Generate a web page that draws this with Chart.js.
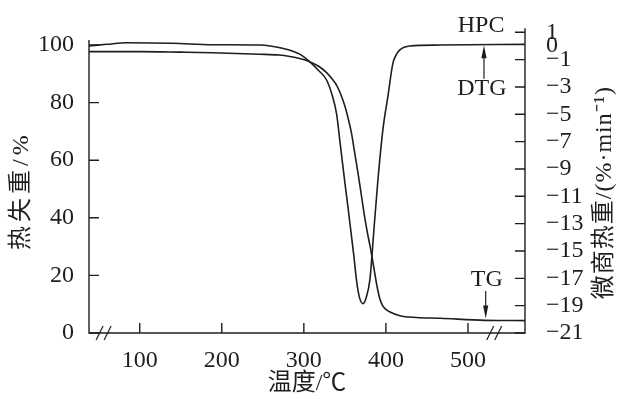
<!DOCTYPE html>
<html><head><meta charset="utf-8">
<script src="https://cdn.jsdelivr.net/npm/chart.js@4/dist/chart.umd.min.js"></script>
<style>html,body{margin:0;padding:0;background:#fff}canvas{display:block}</style>
</head><body>
<canvas id="c" width="621" height="399"></canvas>
<script>
// ---- data ----
const tgTemperature = [38.2, 100, 150, 189, 246, 270, 283, 295, 307, 318, 327.7, 335, 340, 344, 350, 354, 358, 362, 366, 370, 374, 378, 380.5, 383, 386, 389, 392.7, 396, 400, 405, 417, 437, 466, 521, 569.5];
const tgMass        = [97.7, 97.7, 97.5, 97.3, 96.8, 96.5, 96.0, 95.3, 94.2, 92.6, 90.4, 88.0, 86.0, 83.6, 78.8, 74.5, 69.5, 62.5, 55.5, 48.0, 40.5, 34.0, 30.5, 26.5, 21.5, 16.5, 11.8, 9.5, 8.2, 7.3, 6.0, 5.4, 5.1, 4.4, 4.3];
const dtgTemperature = [38.2, 60, 84, 140, 189, 246, 274, 295, 307, 318, 327.7, 335, 340, 344, 350, 354, 358, 361, 364.3, 368, 372.3, 376, 380.5, 385.4, 390, 396.3, 402.4, 408.5, 413, 417, 423, 429, 466, 569.5];
const dtgRate        = [0.0, 0.12, 0.24, 0.2, 0.09, 0.07, -0.17, -0.6, -1.15, -1.8, -2.49, -3.7, -5.0, -7.0, -10.0, -11.9, -13.9, -15.4, -17.2, -18.45, -18.85, -18.4, -17.1, -13.45, -10.0, -6.14, -3.7, -1.27, -0.6, -0.29, -0.08, 0.0, 0.07, 0.12];
const xTicks = [100, 200, 300, 400, 500];
const leftTicks = [0, 20, 40, 60, 80, 100];
const rightTicks = [1, 0, -1, -3, -5, -7, -9, -11, -13, -15, -17, -19, -21];
const xTitle = '温度/℃';
const leftTitle = '热失重/%';
const rightTitle = '微商热重/(%·min⁻¹)';
const seriesName = 'HPC';
const tgName = 'TG';
const dtgName = 'DTG';

// ---- styling / layout ----
const INK = '#1e1e1e';
const SERIF = "'Liberation Serif', 'Noto Sans CJK SC', serif";
const tickFont = {family: SERIF, size: 24};
const titleFont = {family: SERIF, size: 24};
const axisRange = {xMin: 38.2, xMax: 569.5, lMin: 0, lMax: 104.4, rMin: -21, rMax: 1, lTop: 101.7, rTop: 1.3};
const breaks = [56, 532];
const notes = {
  hpc: {x: 516, y: 1.5},
  dtg: {x: 517, y: -3.1, arrowX: 519.5, from: -2.4, to: 0.05},
  tg:  {x: 523, y: 18.6, arrowX: 521.6, from: 14.6, to: 5.0}
};

const fmt = v => v < 0 ? '\u2212' + Math.abs(v) : String(v);

const decor = {
  id: 'decor',
  afterDraw(chart) {
    const {ctx, chartArea: a, scales: {x, yL, yR}} = chart;
    ctx.save();
    ctx.strokeStyle = INK; ctx.fillStyle = INK; ctx.lineWidth = 1.4;
    // axis lines
    ctx.beginPath();
    ctx.moveTo(a.left, yL.getPixelForValue(axisRange.lTop));
    ctx.lineTo(a.left, a.bottom);
    ctx.lineTo(a.right, a.bottom);
    ctx.lineTo(a.right, yR.getPixelForValue(axisRange.rTop));
    ctx.stroke();
    // inward tick marks
    const L = 10;
    ctx.beginPath();
    leftTicks.forEach(v => { const p = yL.getPixelForValue(v); ctx.moveTo(a.left, p); ctx.lineTo(a.left + L, p); });
    rightTicks.filter(v => v !== 0).forEach(v => { const p = yR.getPixelForValue(v); ctx.moveTo(a.right, p); ctx.lineTo(a.right - L, p); });
    xTicks.forEach(v => { const p = x.getPixelForValue(v); ctx.moveTo(p, a.bottom); ctx.lineTo(p, a.bottom - L); });
    ctx.stroke();
    // axis break marks
    ctx.lineWidth = 1.2;
    ctx.beginPath();
    breaks.forEach(v => {
      const c = x.getPixelForValue(v);
      [-4, 4].forEach(o => { ctx.moveTo(c + o - 3.5, a.bottom + 7); ctx.lineTo(c + o + 3.5, a.bottom - 7); });
    });
    ctx.stroke();
    // annotations
    ctx.font = '24px ' + SERIF;
    ctx.textAlign = 'center'; ctx.textBaseline = 'middle';
    ctx.fillText(seriesName, x.getPixelForValue(notes.hpc.x), yR.getPixelForValue(notes.hpc.y));
    ctx.fillText(dtgName, x.getPixelForValue(notes.dtg.x), yR.getPixelForValue(notes.dtg.y));
    ctx.fillText(tgName, x.getPixelForValue(notes.tg.x), yL.getPixelForValue(notes.tg.y));
    const arrow = (px, y0, y1) => {
      const dir = y1 < y0 ? 1 : -1;
      ctx.lineWidth = 1.2;
      ctx.beginPath(); ctx.moveTo(px, y0); ctx.lineTo(px, y1 + dir * 8); ctx.stroke();
      ctx.beginPath(); ctx.moveTo(px, y1); ctx.lineTo(px - 2.6, y1 + dir * 13); ctx.lineTo(px + 2.6, y1 + dir * 13); ctx.closePath(); ctx.fill();
    };
    arrow(x.getPixelForValue(notes.dtg.arrowX), yR.getPixelForValue(notes.dtg.from), yR.getPixelForValue(notes.dtg.to));
    arrow(x.getPixelForValue(notes.tg.arrowX), yL.getPixelForValue(notes.tg.from), yL.getPixelForValue(notes.tg.to));
    // vertical axis titles (both read bottom to top)
    const mid = (a.top + a.bottom) / 2;
    [[leftTitle, 22, mid + 8, '4px'], [rightTitle, 605, mid + 10, '1px']].forEach(([t, cx, cy, sp]) => {
      ctx.save();
      ctx.font = '24px ' + SERIF;
      if ('letterSpacing' in ctx) ctx.letterSpacing = sp;
      ctx.translate(cx, cy);
      ctx.rotate(-Math.PI / 2);
      ctx.fillText(t, 0, 0);
      ctx.restore();
    });
    ctx.restore();
  }
};

const pts = (xs, ys) => xs.map((v, i) => ({x: v, y: ys[i]}));
const lineStyle = {borderColor: INK, borderWidth: 1.6, pointRadius: 0, fill: false, cubicInterpolationMode: 'monotone'};
const fitVertical = w => s => { s.width = w; s.paddingTop = 0; s.paddingBottom = 0; };

new Chart(document.getElementById('c'), {
  type: 'line',
  data: {
    datasets: [
      Object.assign({label: tgName, data: pts(tgTemperature, tgMass), yAxisID: 'yL'}, lineStyle),
      Object.assign({label: dtgName, data: pts(dtgTemperature, dtgRate), yAxisID: 'yR'}, lineStyle)
    ]
  },
  options: {
    responsive: false, animation: false, devicePixelRatio: 1,
    layout: {padding: {top: 32.3, left: 0, right: 0, bottom: 0}},
    plugins: {legend: {display: false}, tooltip: {enabled: false}},
    scales: {
      x: {
        type: 'linear', position: 'bottom', min: axisRange.xMin, max: axisRange.xMax,
        afterBuildTicks: s => { s.ticks = xTicks.map(v => ({value: v})); },
        afterFit: s => { s.height = 66; s.paddingLeft = 0; s.paddingRight = 0; },
        grid: {display: false, drawTicks: false}, border: {display: false},
        ticks: {font: tickFont, color: INK, padding: 13, maxRotation: 0, autoSkip: false, callback: fmt},
        title: {display: true, text: xTitle, font: titleFont, color: INK, padding: {top: 0, bottom: 1}}
      },
      yL: {
        type: 'linear', position: 'left', min: axisRange.lMin, max: axisRange.lMax,
        afterBuildTicks: s => { s.ticks = leftTicks.map(v => ({value: v})); },
        afterFit: fitVertical(89),
        grid: {display: false, drawTicks: false}, border: {display: false},
        ticks: {font: tickFont, color: INK, padding: 15, autoSkip: false, callback: fmt}
      },
      yR: {
        type: 'linear', position: 'right', min: axisRange.rMin, max: axisRange.rMax,
        afterBuildTicks: s => { s.ticks = rightTicks.map(v => ({value: v})); },
        afterFit: fitVertical(96),
        grid: {display: false, drawTicks: false}, border: {display: false},
        ticks: {font: tickFont, color: INK, padding: 21, autoSkip: false, callback: fmt}
      }
    }
  },
  plugins: [decor]
});
</script>
</body></html>
